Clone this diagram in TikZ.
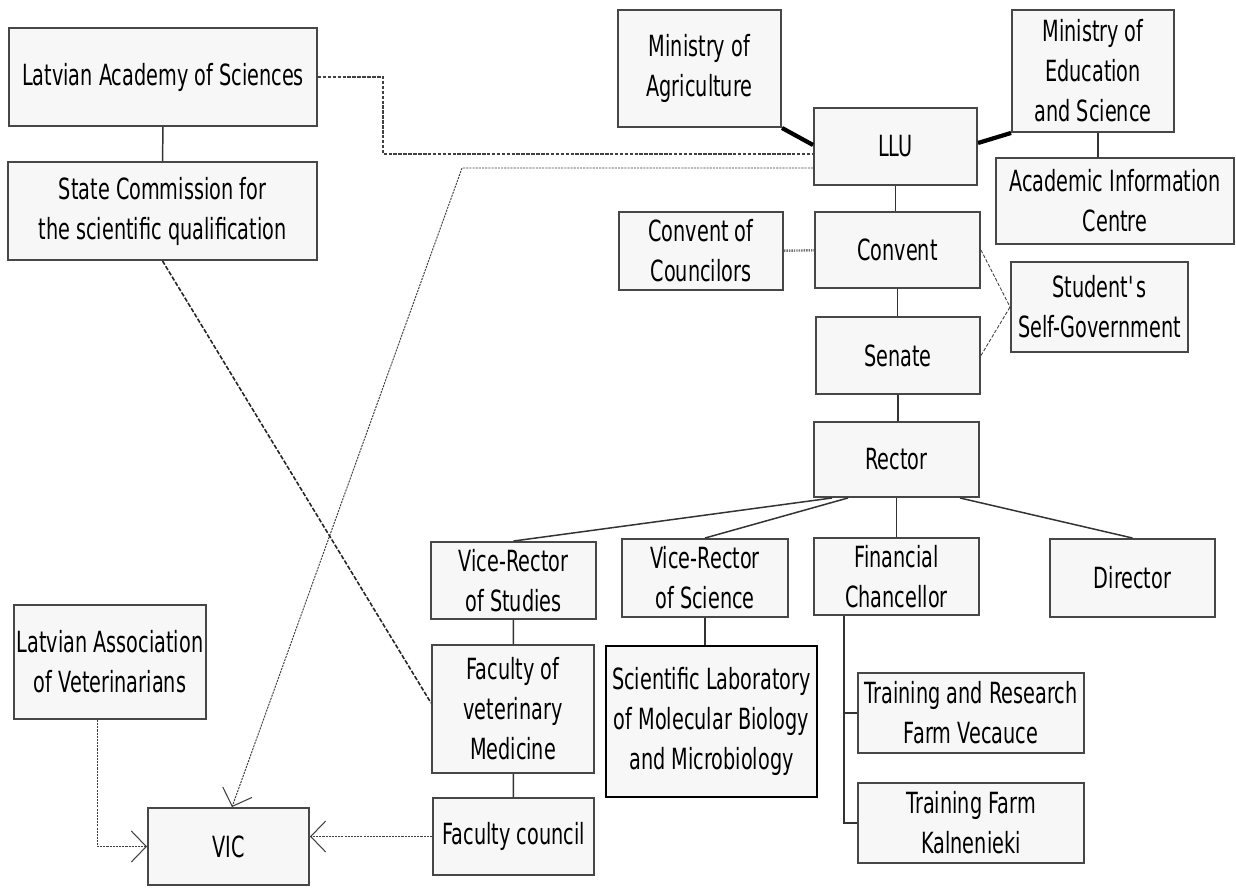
\documentclass[tikz,border=0pt]{standalone}
\usepackage{fontspec}
\setmainfont{DejaVu Sans}[FakeStretch=0.66]
\usepackage{tikz}
\usetikzlibrary{arrows.meta, positioning, calc}

\begin{document}
\begin{tikzpicture}[x=0.02cm, y=-0.02cm,
    every node/.style={font=\fontsize{16.6}{22.8}\selectfont, align=center},
    box/.style={draw=black!72, line width=1.1pt, fill=black!3, inner sep=0pt},
    sz/.style 2 args={minimum width=#1*0.02cm, minimum height=#2*0.02cm},
    link/.style={draw=black!80, line width=0.85pt},
    heavy/.style={draw=black, line width=2.4pt},
    dashlink/.style={draw=black!75, line width=0.6pt, dash pattern=on 2pt off 0.8pt},
    dotlink/.style={draw=black!75, line width=0.55pt, dash pattern=on 1.2pt off 0.6pt},
    thickdot/.style={draw=black!55, line width=1.4pt, dash pattern=on 0.8pt off 0.6pt},
    thindash/.style={draw=black!75, line width=0.5pt, dash pattern=on 2pt off 1pt},
    darkdash/.style={draw=black!85, line width=0.9pt, dash pattern=on 2.5pt off 1pt},
    vicarrow/.style={-{Straight Barb[length=0.3cm, width=0.62cm, line width=0.6pt]}}]
  \useasboundingbox (0,0) rectangle (1236,888);

  \node[box, sz={308}{98}] (las) at (163,77) {Latvian Academy of Sciences};
  \node[box, sz={309}{98}] (scq) at (162.5,211) {State Commission for\\the scientific qualification};
  \node[box, sz={163}{117}] (moa) at (699.5,68.5) {Ministry of\\Agriculture};
  \node[box, sz={163}{77}] (llu) at (895.5,146.5) {LLU};
  \node[box, sz={162}{122}] (moe) at (1093,71) {Ministry of\\Education\\and Science};
  \node[box, sz={238}{86}] (aic) at (1115,201) {Academic Information\\Centre};
  \node[box, sz={164}{78}] (coc) at (701,251) {Convent of\\Councilors};
  \node[box, sz={165}{76}] (conv) at (897.5,250) {Convent};
  \node[box, sz={177}{90}] (ssg) at (1099.5,307) {Student\textquotesingle s\\Self-Government};
  \node[box, sz={164}{77}] (sen) at (898,355.5) {Senate};
  \node[box, sz={165}{75}] (rec) at (896.5,459.5) {Rector};
  \node[box, sz={165}{77}] (vrs) at (513.5,580.5) {Vice-Rector\\of Studies};
  \node[box, sz={166}{78}] (vrsc) at (705,578) {Vice-Rector\\of Science};
  \node[box, sz={165}{77}] (fin) at (896.5,576.5) {Financial\\Chancellor};
  \node[box, sz={165}{78}] (dir) at (1132.5,578) {Director};
  \node[box, sz={162}{128}] (fvm) at (513,709) {Faculty of\\veterinary\\Medicine};
  \node[box, sz={211}{151}, draw=black, line width=1.6pt] (lab) at (711.5,721.5) {Scientific Laboratory\\of Molecular Biology\\and Microbiology};
  \node[box, sz={161}{77}] (fc) at (513.5,836.5) {Faculty council};
  \node[box, sz={226}{80}] (trf) at (971,713) {Training and Research\\Farm Vecauce};
  \node[box, sz={226}{80}] (tfk) at (971,823) {Training Farm\\Kalnenieki};
  \node[box, sz={192}{114}] (lav) at (110,662) {Latvian Association\\of Veterinarians};
  \node[box, sz={161}{77}] (vic) at (228.5,846.5) {VIC};

  \draw[link] (las) -- (scq);
  \draw[dashlink] (las.east) -- ++(65,0) |- ([yshift=-0.15cm]llu.west);
  \draw[dotlink, vicarrow] ([yshift=-0.43cm]llu.west) -- ++(-351,0) -- ([xshift=0.07cm]vic.north);
  \draw[heavy] (moa.south east) -- ([yshift=0.03cm]llu.west);
  \draw[heavy] (moe.south west) -- ([yshift=0.07cm]llu.east);
  \draw[link] ([xshift=0.1cm]moe.south) -- ([xshift=0.1cm]moe.south |- aic.north);
  \draw[link] (llu.south) -- (llu.south |- conv.north);
  \draw[thickdot] (coc) -- (conv);
  \draw[thindash] (conv.east) -- (ssg.west);
  \draw[thindash] (sen.east) -- (ssg.west);
  \draw[link] (conv.south) -- (conv.south |- sen.north);
  \draw[link] (sen.south) -- (sen.south |- rec.north);
  \draw[link] ([xshift=0.38cm]rec.south west) -- (vrs.north);
  \draw[link] ([xshift=0.7cm]rec.south west) -- (vrsc.north);
  \draw[link] (rec) -- (fin);
  \draw[link] ([xshift=-0.4cm]rec.south east) -- (dir.north);
  \draw[link] ([xshift=-1.05cm]fin.south) |- (tfk.west);
  \draw[link] (trf.west) -- ++(-14,0);
  \draw[link] (vrs) -- (fvm);
  \draw[link] (fvm) -- (fc);
  \draw[link] (vrsc.south) -- (vrsc.south |- lab.north);
  \draw[darkdash] (scq.south) -- ([yshift=0.12cm]fvm.west);
  \draw[dotlink, vicarrow] ([xshift=-0.26cm]lav.south) |- (vic.west);
  \draw[dotlink, vicarrow] (fc.west) -- (fc.west -| vic.east);
\end{tikzpicture}
\end{document}
